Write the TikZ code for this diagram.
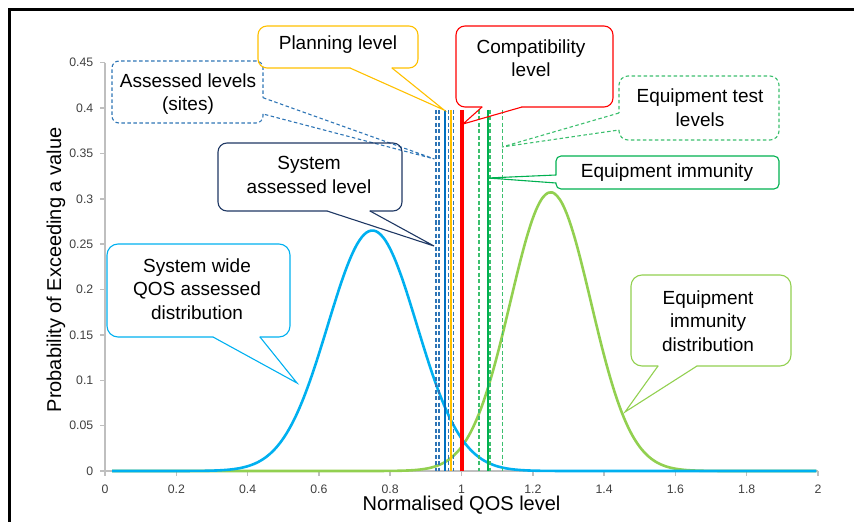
\documentclass[tikz,border=0pt]{standalone}
\usepackage{fontspec}
\setmainfont{Liberation Sans}
\definecolor{assessedc}{HTML}{2E75B6}
\definecolor{solidblue}{HTML}{0070C0}
\definecolor{planc}{HTML}{FFC000}
\definecolor{compc}{HTML}{FF0000}
\definecolor{testc}{HTML}{3CBF6E}
\definecolor{immc}{HTML}{00B050}
\definecolor{sysc}{HTML}{1F3864}
\definecolor{qosc}{HTML}{00B0F0}
\definecolor{distc}{HTML}{92D050}
\definecolor{axisc}{HTML}{BFBFBF}
\definecolor{tickgray}{HTML}{404040}
\begin{document}
\begin{tikzpicture}[x=1bp,y=-1bp,
  box/.style={line width=1.1bp, rounded corners=9bp},
  solidbox/.style={box, line cap=round},
  dashbox/.style={box, dash pattern=on 3.5bp off 2.5bp},
  ptr/.style={line width=1.1bp, sharp corners},
  ctext/.style={font=\fontsize{19bp}{23.5bp}\selectfont, align=center, text=black, inner sep=0pt},
  ticklab/.style={font=\fontsize{12.3bp}{14bp}\selectfont, text=tickgray, inner sep=0pt},
  axline/.style={draw=axisc, line width=1.5bp},
  vdash/.style={dash pattern=on 4bp off 2.5bp, line width=1.6bp},
  titletext/.style={font=\fontsize{20bp}{24bp}\selectfont, text=black, inner sep=0pt},
]
\useasboundingbox (0,0) rectangle (854,522);
% frame
\draw[line width=2.5bp] (9.7,530) -- (9.7,9.5) -- (860,9.5);
% axes
\draw[axline] (105,62.7) -- (105,471) -- (818,471);
\foreach \v/\l [count=\i] in {0/0,0.05/0.05,0.1/0.1,0.15/0.15,0.2/0.2,0.25/0.25,0.3/0.3,0.35/0.35,0.4/0.4,0.45/0.45}{
  \draw[axline] (100,{471-907.3*\v}) -- (105,{471-907.3*\v});
  \node[ticklab, anchor=east] (yl\i) at (93.5,{471-907.3*\v}) {\l};
}
\foreach \v/\l [count=\i] in {0/0,0.2/0.2,0.4/0.4,0.6/0.6,0.8/0.8,1/1,1.2/1.2,1.4/1.4,1.6/1.6,1.8/1.8,2/2}{
  \draw[axline] ({105+356.5*\v},471) -- ({105+356.5*\v},476);
  \node[ticklab] (xl\i) at ({105+356.5*\v},489.3) {\l};
}
\node[titletext] (xtitle) at (461.5,505) {Normalised QOS level};
\node[titletext, rotate=90] (ytitle) at (56,270) {Probability of Exceeding a value};
% curves
\draw[distc, line width=2.6bp, line join=round] plot[domain=0.02:2, samples=300, smooth]
  ({105+356.5*\x}, {471-907.3*0.307*exp(max(-12,-((\x-1.25)^2)/0.025538))});
\draw[qosc, line width=2.6bp, line join=round] plot[domain=0.02:2, samples=300, smooth]
  ({105+356.5*\x}, {471-907.3*0.265*exp(max(-12,-((\x-0.75)^2)/0.03125))});
% vertical level lines
\foreach \xx in {436,439,448.5,453.3}
  \draw[vdash, assessedc] (\xx,110) -- (\xx,471);
\draw[line width=2bp, solidblue] (445.3,110) -- (445.3,471);
\draw[line width=2bp, planc] (450.8,110) -- (450.8,471);
\draw[line width=3.6bp, compc] (461.7,110) -- (461.7,471);
\foreach \xx in {479,490.2,502.3}
  \draw[vdash, testc] (\xx,110) -- (\xx,471);
\draw[line width=2bp, immc] (487.5,110) -- (487.5,471);
% callout tips
\coordinate (tipA) at (434.5,159);
\coordinate (tipP) at (444,110);
\coordinate (tipC) at (463,124);
\coordinate (tipT) at (502,147);
\coordinate (tipI) at (488,178);
\coordinate (tipS) at (434,246);
\coordinate (tipQ) at (297,383);
\coordinate (tipD) at (625,412);
% Assessed levels (sites)
\draw[dashbox, assessedc, rounded corners=7bp] (263,114) -- (263,123) -- (112,123) -- (112,61) -- (263,61) -- (263,97.7);
\draw[ptr, assessedc, dash pattern=on 3.5bp off 2.5bp] (263,97.7) -- (tipA) -- (263,114);
\node[ctext] (tA) at (188,94) {Assessed levels\\(sites)};
% Planning level
\draw[solidbox, planc] (392,68) -- (418,68) -- (418,26) -- (258,26) -- (258,68) -- (350,68);
\draw[ptr, planc] (350,68) -- (tipP) -- (392,68);
\node[ctext] (tP) at (338,45) {Planning level};
% Compatibility level
\draw[solidbox, compc] (522,107) -- (613,107) -- (613,26) -- (456,26) -- (456,107) -- (482,107);
\draw[ptr, compc] (482,107) -- (tipC) -- (522,107);
\node[ctext] (tC) at (531,58) {Compatibility\\level};
% Equipment test levels
\draw[dashbox, testc] (619,130) -- (619,140) -- (779,140) -- (779,76) -- (619,76) -- (619,113);
\draw[ptr, testc, dash pattern=on 3.5bp off 2.5bp] (619,113) -- (tipT) -- (619,130);
\node[ctext] (tT) at (700,107.5) {Equipment test\\levels};
% Equipment immunity
\draw[solidbox, immc, rounded corners=5bp] (556,183) -- (556,189) -- (779,189) -- (779,156) -- (556,156) -- (556,175);
\draw[ptr, immc] (556,175) -- (tipI) -- (556,183);
\node[ctext] (tI) at (667,173) {Equipment immunity};
% System assessed level
\draw[solidbox, sysc] (370,211) -- (402,211) -- (402,143) -- (218,143) -- (218,211) -- (327,211);
\draw[ptr, sysc] (327,211) -- (tipS) -- (370,211);
\node[ctext] (tS) at (309,175) {System\\assessed level};
% System wide QOS assessed distribution
\draw[solidbox, qosc, rounded corners=11bp] (260,337) -- (290,337) -- (290,244) -- (107,244) -- (107,337) -- (213,337);
\draw[ptr, qosc] (213,337) -- (tipQ) -- (260,337);
\node[ctext] (tQ) at (197,289) {System wide\\QOS assessed\\distribution};
% Equipment immunity distribution
\draw[solidbox, distc, rounded corners=11bp] (697,366) -- (791,366) -- (791,275) -- (631,275) -- (631,366) -- (658,366);
\draw[ptr, distc] (658,366) -- (tipD) -- (697,366);
\node[ctext] (tD) at (708,321) {Equipment\\immunity\\distribution};
\end{tikzpicture}
\end{document}
